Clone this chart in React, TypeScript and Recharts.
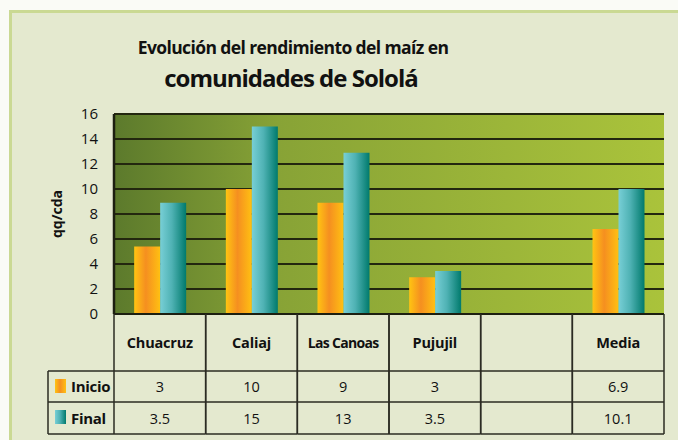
import React from 'react';
import { BarChart, Bar, XAxis, YAxis, CartesianGrid } from 'recharts';

const categories = ['Chuacruz', 'Caliaj', 'Las Canoas', 'Pujujil', '', 'Media'];
const inicioValues = [5.4, 10, 8.9, 2.95, null, 6.8];
const finalValues = [8.9, 15, 12.9, 3.45, null, 10];
const tableInicio = ['3', '10', '9', '3', '', '6.9'];
const tableFinal = ['3.5', '15', '13', '3.5', '', '10.1'];
const yTicks = [0, 2, 4, 6, 8, 10, 12, 14, 16];
const seriesNames = ['Inicio', 'Final'];

const data = categories.map((c, i) => ({
  name: c,
  inicio: inicioValues[i],
  final: finalValues[i],
  tInicio: tableInicio[i],
  tFinal: tableFinal[i],
}));

const W = 678;
const H = 440;
const YW = 30;
const XH = 126;
const MARGIN = { top: 114, right: 14, bottom: 0, left: 114 - YW };
const PLOT_W = W - MARGIN.left - YW - MARGIN.right;
const COL_W = PLOT_W / categories.length;
const FONT = '"Open Sans", "Noto Sans", sans-serif';
const LINE = '#2b2b22';

const ROW1 = 57;
const ROW2 = 88;
const ROW3 = 120;

const TableTick = (props: any) => {
  const { x, y, payload } = props;
  const idx = payload.index;
  const d = data[idx];
  const left = x - COL_W / 2;
  const right = x + COL_W / 2;
  const isLong = (d.name || '').length > 8;
  return (
    <g>
      <line x1={left} x2={left} y1={y} y2={y + ROW3} stroke={LINE} strokeWidth={1.5} />
      <line x1={right} x2={right} y1={y} y2={y + ROW3} stroke={LINE} strokeWidth={1.5} />
      <line x1={left} x2={right} y1={y + ROW1} y2={y + ROW1} stroke={LINE} strokeWidth={1.5} />
      <line x1={left} x2={right} y1={y + ROW2} y2={y + ROW2} stroke={LINE} strokeWidth={1.5} />
      <line x1={left} x2={right} y1={y + ROW3} y2={y + ROW3} stroke={LINE} strokeWidth={1.5} />
      <text x={x} y={y + 34} textAnchor="middle" fontFamily={FONT} fontWeight={700}
        fontSize={isLong ? 14 : 14.5} fill="#111" letterSpacing={isLong ? -0.7 : -0.2}>{d.name}</text>
      <text x={x} y={y + 78} textAnchor="middle" fontFamily={FONT} fontSize={14.5} fill="#111">{d.tInicio}</text>
      <text x={x} y={y + 110} textAnchor="middle" fontFamily={FONT} fontSize={14.5} fill="#111">{d.tFinal}</text>
      {idx === 0 && (
        <g>
          <line x1={48} x2={left} y1={y + ROW1} y2={y + ROW1} stroke={LINE} strokeWidth={1.5} />
          <line x1={48} x2={left} y1={y + ROW2} y2={y + ROW2} stroke={LINE} strokeWidth={1.5} />
          <line x1={48} x2={left} y1={y + ROW3} y2={y + ROW3} stroke={LINE} strokeWidth={1.5} />
          <line x1={48} x2={48} y1={y + ROW1} y2={y + ROW3} stroke={LINE} strokeWidth={1.5} />
          <rect x={55} y={y + 65} width={11} height={14} fill="url(#gInicio)" />
          <rect x={55} y={y + 96} width={11} height={14} fill="url(#gFinal)" />
          <text x={71} y={y + 78} fontFamily={FONT} fontWeight={700} fontSize={15} fill="#111" letterSpacing={-0.3}>{seriesNames[0]}</text>
          <text x={71} y={y + 110} fontFamily={FONT} fontWeight={700} fontSize={15} fill="#111" letterSpacing={-0.3}>{seriesNames[1]}</text>
        </g>
      )}
    </g>
  );
};

export default function App() {
  return (
    <div style={{ position: 'absolute', left: 0, top: 0, width: W, height: H, overflow: 'hidden', background: '#fafbf6' }}>
      <div style={{ position: 'absolute', left: 9, top: 10, width: 700, height: 460, background: '#e4e9cf', borderTop: '3px solid #cad993', borderLeft: '3px solid #cad993' }} />
      <div style={{ position: 'absolute', left: 0, width: 586, top: 35, textAlign: 'center', fontFamily: FONT, fontWeight: 700, fontSize: 17.5, color: '#111', letterSpacing: -0.6, lineHeight: '24px' }}>
        Evolución del rendimiento del maíz en
      </div>
      <div style={{ position: 'absolute', left: 0, width: 582, top: 62, textAlign: 'center', fontFamily: FONT, fontWeight: 700, fontSize: 24, color: '#111', letterSpacing: -1, lineHeight: '32px' }}>
        comunidades de Sololá
      </div>
      <div style={{ position: 'absolute', left: 0, top: 0 }}>
        <BarChart width={W} height={H} data={data} margin={MARGIN} barCategoryGap="22%" barGap={0}>
          <defs>
            <linearGradient id="gBg" x1="0" y1="0" x2="1" y2="0">
              <stop offset="0" stopColor="#5c7a2c" />
              <stop offset="0.3" stopColor="#88a336" />
              <stop offset="1" stopColor="#aac33b" />
            </linearGradient>
            <linearGradient id="gInicio" x1="0" y1="0" x2="1" y2="0">
              <stop offset="0" stopColor="#ffc412" />
              <stop offset="0.45" stopColor="#f58f20" />
              <stop offset="1" stopColor="#ffc012" />
            </linearGradient>
            <linearGradient id="gFinal" x1="0" y1="0" x2="1" y2="0">
              <stop offset="0" stopColor="#78cfd6" />
              <stop offset="0.45" stopColor="#4fb2b4" />
              <stop offset="1" stopColor="#007a6c" />
            </linearGradient>
          </defs>
          <CartesianGrid vertical={false} fill="url(#gBg)" fillOpacity={1} stroke="#23270f" strokeWidth={2} strokeOpacity={1} />
          <XAxis dataKey="name" axisLine={{ stroke: '#1c1f10', strokeWidth: 2 }} tickLine={false}
            tickSize={0} tickMargin={0} height={XH} tick={<TableTick />} interval={0} />
          <YAxis width={YW} domain={[0, 16]} ticks={yTicks} interval={0} allowDataOverflow
            axisLine={{ stroke: '#1c1f10', strokeWidth: 2.5 }} tickLine={false} tickSize={6} tickMargin={10}
            tick={{ fontFamily: FONT, fontSize: 15, fill: '#111' }} />
          <Bar dataKey="inicio" fill="url(#gInicio)" isAnimationActive={false} />
          <Bar dataKey="final" fill="url(#gFinal)" isAnimationActive={false} />
        </BarChart>
      </div>
      <div style={{ position: 'absolute', left: 57 - 40, top: 214 - 10, width: 80, height: 20, transform: 'rotate(-90deg)', textAlign: 'center', fontFamily: FONT, fontWeight: 700, fontSize: 14, color: '#111', lineHeight: '20px' }}>
        qq/cda
      </div>
    </div>
  );
}
